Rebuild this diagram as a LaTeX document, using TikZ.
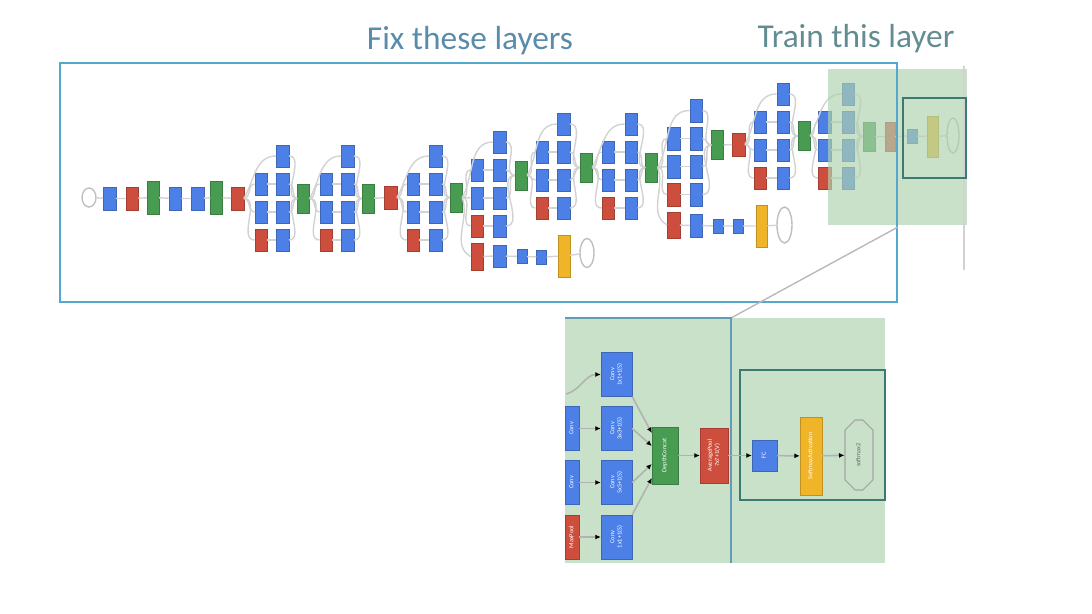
\documentclass[tikz,border=0pt]{standalone}
\usepackage{graphicx}
\usepackage{fontspec}
\setmainfont{Carlito}
\usetikzlibrary{arrows.meta,shapes.geometric,shapes.misc}
\definecolor{gblue}{RGB}{76,128,230}
\definecolor{gred}{RGB}{205,78,60}
\definecolor{ggreen}{RGB}{72,156,82}
\definecolor{gyellow}{RGB}{240,180,40}
\definecolor{trainbg}{RGB}{200,225,200}
\definecolor{trainfog}{RGB}{175,210,175}
\definecolor{frameblue}{RGB}{84,168,204}
\definecolor{darkteal}{RGB}{58,122,115}
\definecolor{titleblue}{RGB}{88,140,170}
\definecolor{titleteal}{RGB}{98,140,145}
\tikzset{
  box/.style={draw=#1!80!black, line width=0.2pt, fill=#1, inner sep=0pt, text=white},
  blubox/.style={box=gblue, minimum width=0.25cm, minimum height=0.45cm},
  redbox/.style={box=gred, minimum width=0.25cm, minimum height=0.45cm},
  catbox/.style={box=ggreen, minimum width=0.24cm, minimum height=0.58cm},
  lrnbox/.style={box=ggreen, minimum width=0.24cm, minimum height=0.66cm},
  auxbox/.style={box=gblue, minimum width=0.2cm, minimum height=0.28cm},
  ylwbox/.style={box=gyellow, minimum width=0.23cm, minimum height=0.84cm},
  outnode/.style={ellipse, draw=gray!50, line width=0.8pt, inner sep=0pt},
  lnk/.style={draw=gray!35, line width=0.8pt},
  ttl/.style={font=\fontsize{19}{22}\selectfont, anchor=base},
  tiny/.style={font=\fontsize{3.6}{4.2}\selectfont},
  bconv/.style={box=gblue, tiny, minimum width=0.62cm, minimum height=0.88cm},
  bleft/.style={box=#1, tiny, minimum width=0.28cm, minimum height=0.88cm},
  bcat/.style={box=ggreen, tiny, minimum width=0.52cm, minimum height=1.14cm},
  bavg/.style={box=gred, tiny, minimum width=0.56cm, minimum height=1.1cm},
  bfc/.style={box=gblue, tiny, minimum width=0.5cm, minimum height=0.62cm},
  bsm/.style={box=gyellow, tiny, minimum width=0.44cm, minimum height=1.56cm},
  bout/.style={chamfered rectangle, chamfered rectangle sep=0.13cm, draw=gray!70, line width=0.6pt, tiny, text=gray!80!black, inner sep=0pt, minimum width=0.56cm, minimum height=1.4cm},
  arr/.style={draw=gray!60, line width=0.9pt, -{Latex[length=1.1mm,width=1mm,black]}}
}
\def\vtxt#1{\rotatebox{90}{\begin{tabular}{@{}c@{}}#1\end{tabular}}}
% one inception block: name, input, x col1, x col2, x concat, y top row, y concat
\def\incep#1#2#3#4#5#6#7{%
  \node[blubox] (#1t) at (#4,#6) {};
  \node[blubox] (#1a) at (#3,{#6+28}) {};
  \node[blubox] (#1b) at (#3,{#6+56}) {};
  \node[redbox] (#1c) at (#3,{#6+84}) {};
  \node[blubox] (#1d) at (#4,{#6+28}) {};
  \node[blubox] (#1e) at (#4,{#6+56}) {};
  \node[blubox] (#1f) at (#4,{#6+84}) {};
  \node[catbox] (#1g) at (#5,#7) {};
  \draw[lnk] (#2.east) to[out=60,in=180] (#1t.west);
  \foreach \rw in {a,b,c} \draw[lnk] (#2.east) to[out=0,in=180] (#1\rw.west);
  \draw[lnk] (#1a) -- (#1d);
  \draw[lnk] (#1b) -- (#1e);
  \draw[lnk] (#1c) -- (#1f);
  \foreach \rw in {t,d,e,f} \draw[lnk] (#1\rw.east) to[out=0,in=180] (#1g.west);
}

\begin{document}
\begin{tikzpicture}[x=0.02cm, y=-0.02cm]
%%%%% START %%%%%
\useasboundingbox (0,0) rectangle (1092,614);

\node[ttl, text=titleblue] (fix) at (470,50) {Fix these layers};
\node[ttl, text=titleteal] (train) at (856,48) {Train this layer};

% stem
\node[outnode, minimum width=0.28cm, minimum height=0.38cm] (inp) at (89,197.5) {};
\node[blubox] (s1) at (109.5,198.5) {};
\node[redbox] (s2) at (132,198.5) {};
\node[lrnbox] (s3) at (153,197.5) {};
\node[blubox] (s4) at (175,198.5) {};
\node[blubox] (s5) at (197.5,198.5) {};
\node[lrnbox] (s6) at (216.5,197.5) {};
\node[redbox] (s7) at (237.5,198.5) {};
\draw[lnk] (inp) -- (s1) -- (s2) -- (s3) -- (s4) -- (s5) -- (s6) -- (s7);

% inception blocks
\incep{i3a}{s7}{261}{282.5}{303.5}{156}{198.5}
\incep{i3b}{i3ag}{326}{347.5}{368}{156}{198.5}
\node[redbox] (p3) at (390.5,197.5) {};
\draw[lnk] (i3bg) -- (p3);
\incep{i4a}{p3}{413}{435.5}{456}{156}{197.5}
\incep{i4b}{i4ag}{477}{499.5}{521}{142}{175.5}
\incep{i4c}{i4bg}{542}{563.5}{586}{124}{167.5}
\incep{i4d}{i4cg}{608}{631}{651.5}{124}{167.5}
\incep{i4e}{i4dg}{673.5}{696}{717.5}{110.5}{145}
\node[redbox] (p4) at (738.5,144.5) {};
\draw[lnk] (i4eg) -- (p4);
\incep{i5a}{p4}{760}{783}{804}{94}{136}
\incep{i5b}{i5ag}{824.5}{848}{869}{94}{136.5}

% head
\node[redbox, minimum width=0.2cm, minimum height=0.58cm] (avg) at (890,136.5) {};
\node[auxbox] (fc) at (912,136) {};
\node[ylwbox, minimum height=0.82cm] (sm) at (932.5,136.5) {};
\node[outnode, minimum width=0.24cm, minimum height=0.7cm] (out) at (953,135.5) {};
\draw[lnk] (i5bg) -- (avg) -- (fc) -- (sm) -- (out);

% side outputs
\node[redbox, minimum height=0.54cm] (a1p) at (477,256.5) {};
\node[blubox] (a1c) at (499.5,256) {};
\node[auxbox] (a1f) at (522,256.5) {};
\node[auxbox] (a1g) at (541.5,257) {};
\node[ylwbox] (a1s) at (564,256) {};
\node[outnode, minimum width=0.28cm, minimum height=0.58cm] (a1o) at (587,253) {};
\draw[lnk] (i4ag.east) to[out=-70,in=150] (a1p.west);
\draw[lnk] (a1p) -- (a1c) -- (a1f) -- (a1g) -- (a1s) -- (a1o);

\node[redbox, minimum height=0.52cm] (a2p) at (673.5,225) {};
\node[blubox] (a2c) at (696,225.5) {};
\node[auxbox] (a2f) at (718,226) {};
\node[auxbox] (a2g) at (738,226) {};
\node[ylwbox] (a2s) at (761.5,226) {};
\node[outnode, minimum width=0.3cm, minimum height=0.72cm] (a2o) at (784.5,225) {};
\draw[lnk] (i4dg.east) to[out=-70,in=150] (a2p.west);
\draw[lnk] (a2p) -- (a2c) -- (a2f) -- (a2g) -- (a2s) -- (a2o);

% trained part
\fill[trainfog, fill opacity=0.68] (828,69) rectangle (967,225);
\draw[gray!35, line width=0.8pt] (964,66) -- (964,270);
\draw[darkteal, line width=1.4pt] (903,98) rectangle (966,178);
\draw[frameblue, line width=1.4pt] (60,63) rectangle (897,302);

% zoomed view
\coordinate (zt) at (898,227);
\coordinate (zb) at (731,318);
\draw[gray!55, line width=0.8pt] (zb) -- (zt);
\fill[trainbg] (565,318) rectangle (885,563);
\draw[frameblue!70!gray, line width=1pt] (565,318) -- (zb) -- (731,563);
\draw[darkteal, line width=1.4pt] (740,370) rectangle (885,500);

\node[bconv] (c0) at (616.5,374.5) {\vtxt{Conv\\1x1+1(S)}};
\node[bconv] (c1) at (616.5,428.5) {\vtxt{Conv\\3x3+1(S)}};
\node[bconv] (c2) at (616.5,482.5) {\vtxt{Conv\\5x5+1(S)}};
\node[bconv] (c3) at (616.5,537) {\vtxt{Conv\\1x1+1(S)}};
\node[bleft=gblue] (l1) at (572,428.5) {\vtxt{Conv}};
\node[bleft=gblue] (l2) at (572,482.5) {\vtxt{Conv}};
\node[bleft=gred] (l3) at (572,537) {\vtxt{MaxPool}};
\node[bcat] (dc) at (665,455.5) {\vtxt{DepthConcat}};
\node[bavg] (ap) at (714,455.5) {\vtxt{AveragePool\\7x7+1(V)}};
\node[bfc] (bf) at (764.5,455.5) {\vtxt{FC}};
\node[bsm] (bs) at (811,456) {\vtxt{SoftmaxActivation}};
\node[bout] (bo) at (859,455) {\vtxt{softmax2}};

\coordinate (bin) at (566,394);
\draw[arr] (bin) to[out=15,in=180] (c0.west);
\draw[arr] (l1) -- (c1);
\draw[arr] (l2) -- (c2);
\draw[arr] (l3) -- (c3);
\draw[arr] (c0.south east) -- ([yshift=0.45cm]dc.west);
\draw[arr] (c1.east) -- ([yshift=0.19cm]dc.west);
\draw[arr] (c2.east) -- ([yshift=-0.17cm]dc.west);
\draw[arr] (c3.north east) -- ([yshift=-0.45cm]dc.west);
\draw[arr] (dc) -- (ap);
\draw[arr] (ap) -- (bf);
\draw[arr] (bf) -- (bs);
\draw[arr] (bs) -- (bo);
%%%%% END %%%%%
\end{tikzpicture}
\end{document}
